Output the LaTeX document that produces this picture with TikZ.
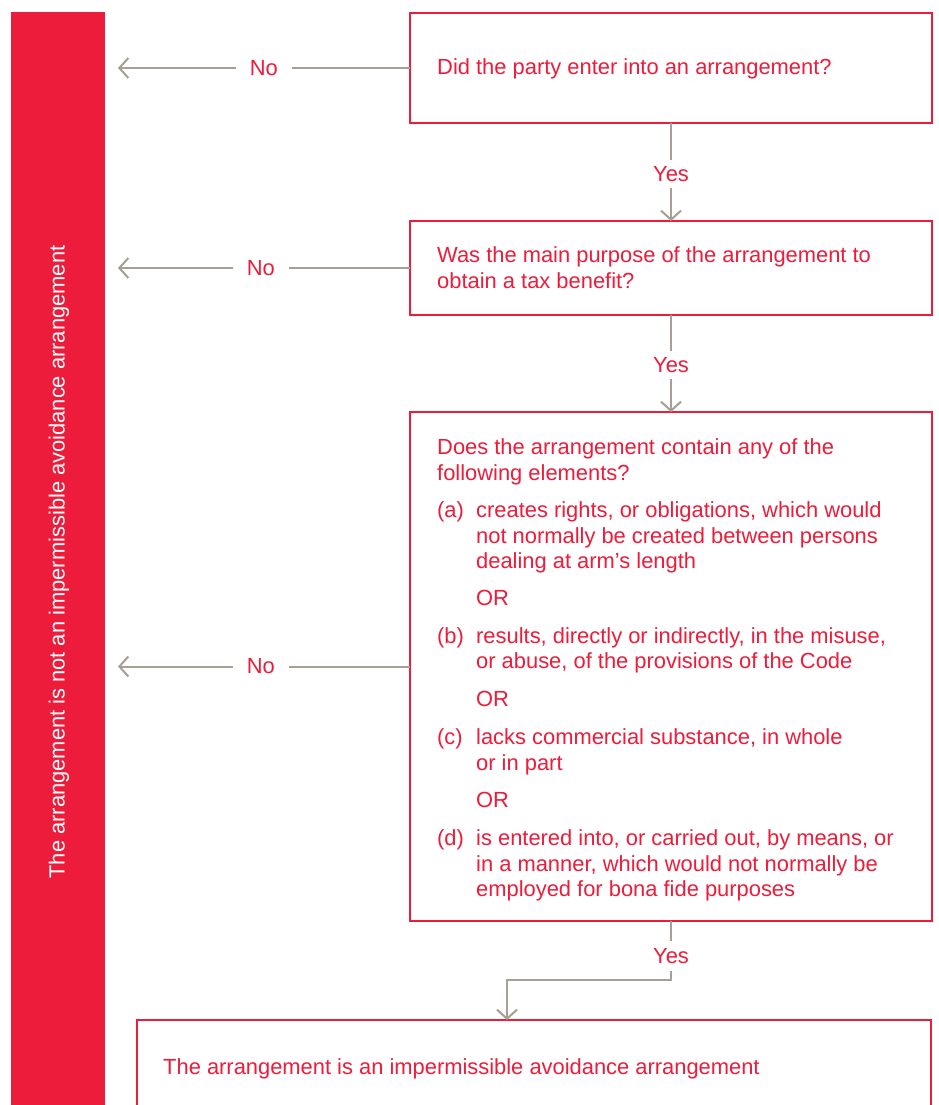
\documentclass[tikz,border=0pt]{standalone}
\usepackage{fontspec}
\setmainfont{Liberation Sans}
\usetikzlibrary{arrows.meta}
\definecolor{brand}{RGB}{237,28,58}
\definecolor{conn}{RGB}{167,158,148}
\begin{document}
\begin{tikzpicture}[x=1pt,y=-1pt,
  box/.style={draw=brand,line width=2.6pt,fill=white,anchor=north west,inner sep=0pt,outer sep=0pt},
  txt/.style={text=brand,anchor=base west,inner sep=0pt,font=\fontsize{21.9}{26}\selectfont},
  lbl/.style={text=brand,fill=white,inner sep=0pt,minimum width=56pt,minimum height=30pt,font=\fontsize{21.9}{26}\selectfont},
  arr/.style={draw=conn,line width=2pt,-{Straight Barb[length=9pt,width=20pt,line width=2pt]}}
]
\clip (0,0) rectangle (938,1105);
\useasboundingbox (0,0) rectangle (938,1105);
\fill[white] (0,0) rectangle (938,1105);

% side bar
\node[fill=brand,anchor=north west,minimum width=94pt,minimum height=1110pt,inner sep=0pt,outer sep=0pt] (bar) at (11,12) {};
\node[text=white,rotate=90,font=\fontsize{21.9}{26}\selectfont,inner sep=0pt] (bartxt) at (59,562) {The arrangement is not an impermissible avoidance arrangement};

% boxes
\node[box,minimum width=522pt,minimum height=110pt] (b1) at (410,13) {};
\node[box,minimum width=522pt,minimum height=94pt] (b2) at (410,221) {};
\node[box,minimum width=522pt,minimum height=509pt] (b3) at (410,412) {};
\node[box,minimum width=794pt,minimum height=120pt] (b4) at (137,1020) {};

% texts
\node[txt] (t1) at (437,75) {Did the party enter into an arrangement?};
\node[txt] (t2a) at (437,262) {Was the main purpose of the arrangement to};
\node[txt] (t2b) at (437,288) {obtain a tax benefit?};

\node[txt] (t3a) at (437,454) {Does the arrangement contain any of the};
\node[txt] (t3b) at (437,480) {following elements?};
\node[txt] (la) at (437,517) {(a)};
\node[txt] (a1) at (476,517) {creates rights, or obligations, which would};
\node[txt] (a2) at (476,543) {not normally be created between persons};
\node[txt] (a3) at (476,568) {dealing at arm’s length};
\node[txt] (or1) at (476,605) {OR};
\node[txt] (lb) at (437,643) {(b)};
\node[txt] (b1t) at (476,643) {results, directly or indirectly, in the misuse,};
\node[txt] (b2t) at (476,668) {or abuse, of the provisions of the Code};
\node[txt] (or2) at (476,706) {OR};
\node[txt] (lc) at (437,744) {(c)};
\node[txt] (c1) at (476,744) {lacks commercial substance, in whole};
\node[txt] (c2) at (476,770) {or in part};
\node[txt] (or3) at (476,807) {OR};
\node[txt] (ld) at (437,845) {(d)};
\node[txt] (d1) at (476,845) {is entered into, or carried out, by means, or};
\node[txt] (d2) at (476,871) {in a manner, which would not normally be};
\node[txt] (d3) at (476,896) {employed for bona fide purposes};

\node[txt] (t4) at (163,1074) {The arrangement is an impermissible avoidance arrangement};

% No connectors
\draw[arr,shorten >=13pt] (b1.west) -- node[lbl,pos=0.479] (no1) {No} (bar.east |- b1.west);
\draw[arr,shorten >=13pt] (b2.west) -- node[lbl,pos=0.489] (no2) {No} (bar.east |- b2.west);
\draw[arr,shorten >=13pt] (b3.west) -- node[lbl,pos=0.489] (no3) {No} (bar.east |- b3.west);

% Yes connectors
\draw[arr] (b1.south) -- node[lbl,minimum height=28pt,pos=0.52] (yes1) {Yes} (b2.north);
\draw[arr] (b2.south) -- node[lbl,minimum height=28pt,pos=0.52] (yes2) {Yes} (b2.south |- b3.north);
\coordinate (turn) at (507,980);
\draw[arr] (b3.south) -- node[lbl,minimum height=30pt,pos=0.6] (yes3) {Yes} (b3.south |- turn) -- (turn) -- (turn |- b4.north);
\end{tikzpicture}
\end{document}
